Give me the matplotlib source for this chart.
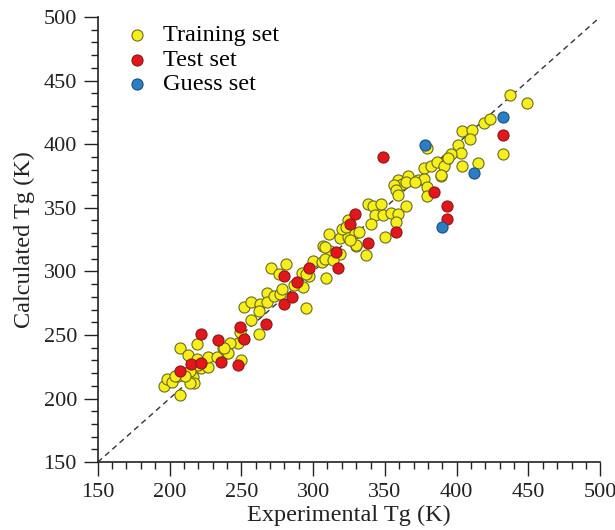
import matplotlib
matplotlib.use('Agg')
import matplotlib.pyplot as plt
from matplotlib.ticker import MultipleLocator

# Experimental vs calculated Tg (K)
train_exp = [196, 198, 202, 206, 207, 207, 213, 213, 216, 217, 214, 219, 222, 227, 227,
             233, 237, 240, 250, 248, 251, 252, 257, 257, 262, 263, 262, 268, 268, 273,
             277, 278, 271, 276, 281, 311, 319, 324, 329, 307, 312, 319, 330, 300, 306,
             308, 309, 292, 297, 293, 295, 437, 449, 432, 419, 423, 404, 411, 409, 401,
             403, 379, 393, 396, 404, 415, 377, 382, 386, 391, 389, 359, 362, 366, 373,
             377, 379, 356, 358, 359, 379, 365, 338, 342, 347, 343, 349, 354, 359, 358,
             324, 320, 332, 330, 326, 308, 394, 389, 365, 371, 242, 241, 238, 249, 219,
             220, 214, 211, 204, 314, 295, 287, 323, 340, 350, 337]
train_calc = [210, 215, 213, 218, 240, 203, 234, 221, 217, 212, 212, 243, 224, 225, 233,
              233, 240, 236, 230, 244, 248, 272, 262, 276, 251, 274, 269, 283, 276, 281,
              282, 286, 303, 298, 306, 329, 326, 327, 330, 320, 316, 314, 320, 308, 307,
              310, 295, 299, 296, 288, 271, 439, 432, 392, 417, 420, 410, 411, 404, 399,
              393, 397, 388, 392, 383, 385, 381, 383, 386, 383, 375, 372, 369, 375, 372,
              373, 366, 368, 364, 360, 359, 351, 353, 351, 353, 344, 344, 346, 345, 339,
              340, 333, 331, 321, 325, 319, 389, 376, 370, 370, 244, 236, 240, 252, 231,
              226, 222, 218, 218, 309, 298, 289, 335, 337, 327, 313]

test_exp = [207, 215, 222, 222, 234, 236, 248, 249, 252, 267, 280, 280, 316, 317, 297,
            289, 285, 349, 432, 384, 393, 393, 358, 329, 326, 338]
test_calc = [222, 227, 251, 228, 246, 229, 226, 256, 247, 259, 296, 274, 315, 303, 303,
             292, 280, 390, 407, 362, 351, 341, 331, 345, 337, 322]

guess_exp = [378, 432, 412, 390]
guess_calc = [399, 421, 377, 335]

plt.rcParams['font.family'] = ['Liberation Serif', 'DejaVu Serif']

fig = plt.figure(figsize=(6.15, 5.3), dpi=100)
ax = fig.add_axes([0.159, 0.128, 0.817, 0.840])

ax.plot([150, 500], [150, 500], linestyle=(0, (4, 3)), color='#333333', lw=1.0, zorder=1)

ax.scatter(train_exp, train_calc, s=64, c='#f6ef1a', edgecolors='#6b6b20', linewidths=0.8,
           label='Training set', zorder=2)
ax.scatter(test_exp, test_calc, s=64, c='#e3161b', edgecolors='#8a1a1a', linewidths=0.8,
           label='Test set', zorder=3)
ax.scatter(guess_exp, guess_calc, s=64, c='#2a7fc4', edgecolors='#1d4f7a', linewidths=0.8,
           label='Guess set', zorder=3)

ax.set_xlim(150, 500)
ax.set_ylim(150, 500)
ax.xaxis.set_major_locator(MultipleLocator(50))
ax.yaxis.set_major_locator(MultipleLocator(50))
ax.xaxis.set_minor_locator(MultipleLocator(10))
ax.yaxis.set_minor_locator(MultipleLocator(10))
ax.tick_params(which='major', direction='out', length=10, width=1.0, labelsize=16,
               pad=5, colors='#222222')
ax.tick_params(which='minor', direction='out', length=5, width=1.0, colors='#222222')

for side in ['top', 'right']:
    ax.spines[side].set_visible(False)
for side in ['left', 'bottom']:
    ax.spines[side].set_linewidth(1.2)
    ax.spines[side].set_color('#222222')

ax.set_xlabel('Experimental Tg (K)', fontsize=17.5, labelpad=2, color='#222222')
ax.set_ylabel('Calculated Tg (K)', fontsize=17.5, labelpad=6, color='#222222')

ax.legend(loc='upper left', frameon=False, fontsize=17.5, handlelength=1.0,
          handletextpad=0.55, labelspacing=0.1, borderaxespad=0.0,
          bbox_to_anchor=(0.035, 1.005))

fig.savefig('out.png', dpi=100)
